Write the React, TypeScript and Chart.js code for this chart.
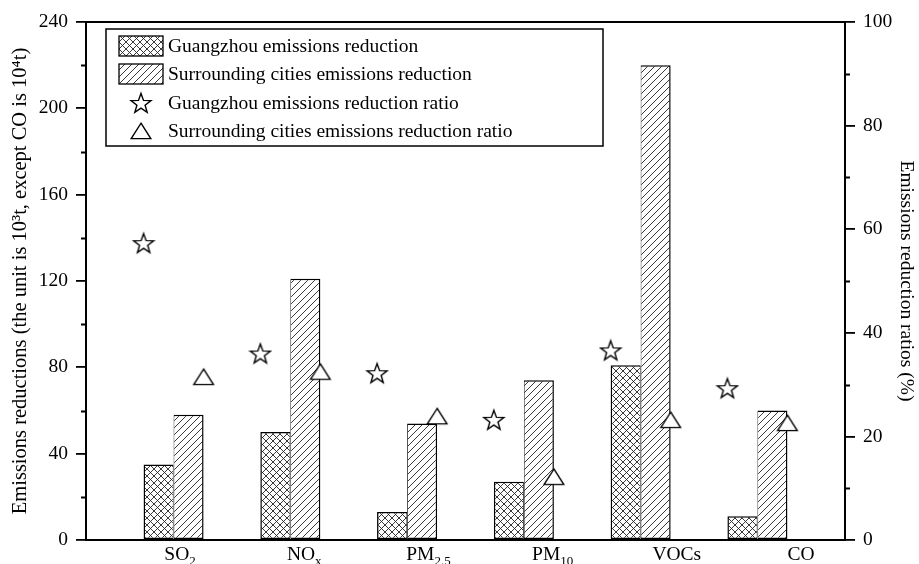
import React, { useEffect, useRef } from 'react';
import { Chart, registerables } from 'chart.js';

Chart.register(...registerables);

// ---------- data ----------
const CATEGORY_MAIN = ['SO', 'NO', 'PM', 'PM', 'VOCs', 'CO'];
const CATEGORY_SUB = ['2', 'x', '2.5', '10', '', ''];
const CATEGORY_INDEX = [1, 2, 3, 4, 5, 6];
const GUANGZHOU_REDUCTION = [35, 50, 13, 27, 81, 11];
const SURROUNDING_REDUCTION = [58, 121, 54, 74, 220, 60];
const GUANGZHOU_RATIO = [57.3, 36.0, 32.2, 23.2, 36.6, 29.3];
const SURROUNDING_RATIO = [31.5, 32.5, 23.9, 12.2, 23.2, 22.6];
const LEFT_RANGE = [0, 240];
const LEFT_STEP = 40;
const RIGHT_RANGE = [0, 100];
const RIGHT_STEP = 20;
const LEGEND_LABELS = [
  'Guangzhou emissions reduction',
  'Surrounding cities emissions reduction',
  'Guangzhou emissions reduction ratio',
  'Surrounding cities emissions reduction ratio',
];
const Y_LEFT_TITLE = 'Emissions reductions (the unit is 10\u00B3t, except CO is 10\u2074t)';
const Y_RIGHT_TITLE = 'Emissions reduction ratios (%)';

// ---------- style ----------
const FONT = "'Liberation Serif', 'Times New Roman', serif";
const FS = 19.5;
const GROUP_FRACTION = 0.514;

function makeStar(): HTMLCanvasElement {
  const c = document.createElement('canvas');
  c.width = 24;
  c.height = 24;
  const g = c.getContext('2d')!;
  const cx = 12, cy = 12.9, R = 10.5, r = 4.3;
  g.beginPath();
  for (let k = 0; k < 10; k++) {
    const rad = k % 2 === 0 ? R : r;
    const a = -Math.PI / 2 + (k * Math.PI) / 5;
    const px = cx + rad * Math.cos(a);
    const py = cy + rad * Math.sin(a);
    if (k === 0) g.moveTo(px, py);
    else g.lineTo(px, py);
  }
  g.closePath();
  g.fillStyle = '#fff';
  g.fill();
  g.lineWidth = 1.4;
  g.strokeStyle = '#000';
  g.stroke();
  return c;
}

function makeTriangle(): HTMLCanvasElement {
  const c = document.createElement('canvas');
  c.width = 24;
  c.height = 20;
  const g = c.getContext('2d')!;
  g.beginPath();
  g.moveTo(12, 2.2);
  g.lineTo(21.8, 17.6);
  g.lineTo(2.2, 17.6);
  g.closePath();
  g.fillStyle = '#fff';
  g.fill();
  g.lineWidth = 1.4;
  g.strokeStyle = '#000';
  g.stroke();
  return c;
}

function makePattern(ctx: CanvasRenderingContext2D, cross: boolean): CanvasPattern {
  const s = 7;
  const t = document.createElement('canvas');
  t.width = s;
  t.height = s;
  const g = t.getContext('2d')!;
  g.fillStyle = '#fff';
  g.fillRect(0, 0, s, s);
  g.strokeStyle = '#222';
  g.lineWidth = 0.9;
  g.beginPath();
  g.moveTo(-1, s + 1);
  g.lineTo(s + 1, -1);
  g.moveTo(-1, 1);
  g.lineTo(1, -1);
  g.moveTo(s - 1, s + 1);
  g.lineTo(s + 1, s - 1);
  if (cross) {
    g.moveTo(-1, -1);
    g.lineTo(s + 1, s + 1);
    g.moveTo(s - 1, -1);
    g.lineTo(s + 1, 1);
    g.moveTo(-1, s - 1);
    g.lineTo(1, s + 1);
  }
  g.stroke();
  return ctx.createPattern(t, 'repeat')!;
}

export default function App() {
  const ref = useRef<HTMLCanvasElement | null>(null);

  useEffect(() => {
    const canvas = ref.current;
    if (!canvas) return;
    const ctx = canvas.getContext('2d')!;
    const star = makeStar();
    const tri = makeTriangle();
    const crossPat = makePattern(ctx, true);
    const hatchPat = makePattern(ctx, false);
    const half = GROUP_FRACTION / 2;

    const decor = {
      id: 'decor',
      afterDraw(chart: any) {
        const c: CanvasRenderingContext2D = chart.ctx;
        const area = chart.chartArea;
        const yL = chart.scales.y;
        const yR = chart.scales.y1;
        const xl = chart.scales.xLab;
        c.save();
        c.strokeStyle = '#000';
        // top frame line
        c.lineWidth = 2;
        c.beginPath();
        c.moveTo(area.left - 1, area.top);
        c.lineTo(area.right + 1, area.top);
        c.stroke();
        // minor ticks
        c.lineWidth = 1.8;
        c.beginPath();
        for (let v = LEFT_RANGE[0] + LEFT_STEP / 2; v < LEFT_RANGE[1]; v += LEFT_STEP) {
          const py = Math.round(yL.getPixelForValue(v)) + 0.5;
          c.moveTo(area.left - 5, py);
          c.lineTo(area.left, py);
        }
        for (let v = RIGHT_RANGE[0] + RIGHT_STEP / 2; v < RIGHT_RANGE[1]; v += RIGHT_STEP) {
          const py = Math.round(yR.getPixelForValue(v)) + 0.5;
          c.moveTo(area.right, py);
          c.lineTo(area.right + 5, py);
        }
        c.stroke();

        // x category labels with subscripts
        c.fillStyle = '#000';
        c.textBaseline = 'alphabetic';
        c.textAlign = 'left';
        const mainFont = `${FS}px ${FONT}`;
        const subFont = `13px ${FONT}`;
        CATEGORY_INDEX.forEach((v, i) => {
          const cx = xl.getPixelForValue(v);
          c.font = mainFont;
          const wm = c.measureText(CATEGORY_MAIN[i]).width;
          c.font = subFont;
          const ws = CATEGORY_SUB[i] ? c.measureText(CATEGORY_SUB[i]).width : 0;
          const x0 = cx - (wm + ws) / 2;
          c.font = mainFont;
          c.fillText(CATEGORY_MAIN[i], x0, 560);
          if (CATEGORY_SUB[i]) {
            c.font = subFont;
            c.fillText(CATEGORY_SUB[i], x0 + wm, 565);
          }
        });

        // legend
        const bx = 106, by = 29, bw = 497, bh = 117;
        c.fillStyle = '#fff';
        c.fillRect(bx, by, bw, bh);
        c.lineWidth = 1.5;
        c.strokeRect(bx, by, bw, bh);
        const rows = [46, 74, 103, 131];
        const pats = [crossPat, hatchPat];
        for (let k = 0; k < 2; k++) {
          c.fillStyle = pats[k];
          c.fillRect(119, rows[k] - 10, 44, 20);
          c.lineWidth = 1.3;
          c.strokeRect(119, rows[k] - 10, 44, 20);
        }
        c.drawImage(star, 141 - star.width / 2, rows[2] - star.height / 2);
        c.drawImage(tri, 141 - tri.width / 2, rows[3] - tri.height / 2);
        c.fillStyle = '#000';
        c.font = mainFont;
        c.textBaseline = 'middle';
        LEGEND_LABELS.forEach((t, k) => c.fillText(t, 168, rows[k] + 1));
        c.restore();
      },
    };

    const font = { family: FONT, size: FS };
    const leftTitleFont = { family: FONT, size: 20.5 };

    const chart = new Chart(ctx, {
      type: 'bar',
      data: {
        datasets: [
          {
            type: 'line',
            label: LEGEND_LABELS[2],
            data: CATEGORY_INDEX.map((c, i) => ({ x: c - half, y: GUANGZHOU_RATIO[i] })),
            xAxisID: 'x',
            yAxisID: 'y1',
            showLine: false,
            pointStyle: star as any,
            pointRadius: 12,
            order: 1,
          } as any,
          {
            type: 'line',
            label: LEGEND_LABELS[3],
            data: CATEGORY_INDEX.map((c, i) => ({ x: c + half, y: SURROUNDING_RATIO[i] })),
            xAxisID: 'x',
            yAxisID: 'y1',
            showLine: false,
            pointStyle: tri as any,
            pointRadius: 12,
            order: 1,
          } as any,
          {
            type: 'bar',
            label: LEGEND_LABELS[0],
            data: CATEGORY_INDEX.map((c, i) => ({ x: c, y: GUANGZHOU_REDUCTION[i] })),
            xAxisID: 'x',
            yAxisID: 'y',
            backgroundColor: crossPat as any,
            borderColor: '#000',
            borderWidth: { left: 1.5, top: 1.5, bottom: 1.5, right: 0.8 },
            borderSkipped: false,
            categoryPercentage: GROUP_FRACTION,
            barPercentage: 1,
            order: 2,
          } as any,
          {
            type: 'bar',
            label: LEGEND_LABELS[1],
            data: CATEGORY_INDEX.map((c, i) => ({ x: c, y: SURROUNDING_REDUCTION[i] })),
            xAxisID: 'x',
            yAxisID: 'y',
            backgroundColor: hatchPat as any,
            borderColor: '#000',
            borderWidth: { left: 0.8, top: 1.5, bottom: 1.5, right: 1.5 },
            borderSkipped: false,
            categoryPercentage: GROUP_FRACTION,
            barPercentage: 1,
            order: 2,
          } as any,
        ],
      },
      options: {
        responsive: false,
        animation: false,
        layout: { padding: { top: 22, left: 0, right: 0, bottom: 0 } },
        plugins: {
          legend: { display: false },
          tooltip: { enabled: false },
        },
        scales: {
          x: {
            type: 'linear',
            position: 'bottom',
            offset: false,
            min: 0.25,
            max: 6.75,
            ticks: { display: false, stepSize: 1, includeBounds: false },
            grid: { display: false, drawTicks: false, offset: false },
            border: { display: true, color: '#000', width: 2 },
            afterFit: (s: any) => {
              s.height = 24;
            },
          },
          xLab: {
            type: 'linear',
            position: 'bottom',
            display: false,
            offset: false,
            min: 0.243,
            max: 6.354,
            grid: { offset: false },
          },
          y: {
            type: 'linear',
            position: 'left',
            min: LEFT_RANGE[0],
            max: LEFT_RANGE[1],
            ticks: { stepSize: LEFT_STEP, color: '#000', font, padding: 8 },
            grid: { drawOnChartArea: false, drawTicks: true, tickLength: 10, color: '#000', lineWidth: 1.8 },
            border: { display: true, color: '#000', width: 2 },
            title: { display: true, text: Y_LEFT_TITLE, color: '#000', font: leftTitleFont, padding: { top: 8, bottom: 0 } },
            afterFit: (s: any) => {
              s.width = 86;
            },
          },
          y1: {
            type: 'linear',
            position: 'right',
            min: RIGHT_RANGE[0],
            max: RIGHT_RANGE[1],
            ticks: { stepSize: RIGHT_STEP, color: '#000', font, padding: 8 },
            grid: { drawOnChartArea: false, drawTicks: true, tickLength: 10, color: '#000', lineWidth: 1.8 },
            border: { display: true, color: '#000', width: 2 },
            title: { display: true, text: Y_RIGHT_TITLE, color: '#000', font, padding: { top: 1, bottom: 0 } },
            afterFit: (s: any) => {
              s.width = 74;
            },
          },
        },
      } as any,
      plugins: [decor],
    });

    return () => chart.destroy();
  }, []);

  return (
    <div style={{ position: 'absolute', left: 0, top: 0, width: 919, height: 564 }}>
      <canvas ref={ref} width={919} height={564} style={{ display: 'block' }} />
    </div>
  );
}
